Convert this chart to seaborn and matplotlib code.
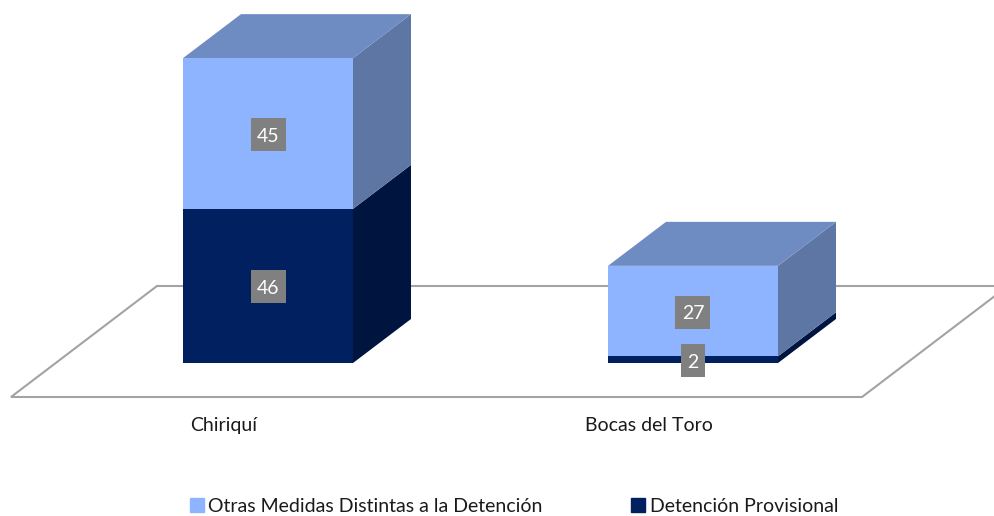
import matplotlib
matplotlib.use("Agg")
import matplotlib.pyplot as plt
from matplotlib.patches import Polygon, Rectangle
from matplotlib.lines import Line2D
import seaborn as sns
import pandas as pd

categories = ["Chiriquí", "Bocas del Toro"]
detencion = [46, 2]
otras = [45, 27]
series_names = ["Otras Medidas Distintas a la Detención", "Detención Provisional"]

LIGHT, LIGHT_TOP, LIGHT_SIDE = "#8FB4FF", "#6E8BC2", "#5E76A4"
DARK, DARK_SIDE = "#00205F", "#001440"
GRID = "#A3A3A3"
TEXT = "#1A1A1A"

sns.set_theme(style="white")
plt.rcParams["font.family"] = ["Lato", "DejaVu Sans"]

W, H = 995, 516
PX_X = 425.0          # pixels per category step
PX_Y = 3.35           # pixels per value unit
X0_PX, Y0_PX = 268.0, 363.0
BAR_W = 170 / PX_X
DX, DY = 58 / PX_X, 44 / PX_Y   # depth of the 3D projection
FS = 14
LABEL_DROP = 1 / PX_Y           # value labels sit one pixel under the segment centre

fig = plt.figure(figsize=(W / 100, H / 100), dpi=100)
ax = fig.add_axes([0, 0, 1, 1])

def fx(p):
    return (p - X0_PX) / PX_X

def fy(p):
    return (Y0_PX - p) / PX_Y

# floor of the 3D plot
ax.add_patch(Polygon(
    [(fx(11), fy(397)), (fx(157), fy(286)), (fx(1008), fy(286)), (fx(862), fy(397))],
    closed=True, facecolor="white", edgecolor=GRID, linewidth=1.5, zorder=1,
))

df = pd.DataFrame({"cat": categories, "det": detencion, "otr": otras})

# side and top faces
for i, (d, o) in enumerate(zip(detencion, otras)):
    r = i + BAR_W / 2
    l = i - BAR_W / 2
    t = d + o
    ax.add_patch(Polygon([(r, 0), (r + DX, DY), (r + DX, d + DY), (r, d)],
                         facecolor=DARK_SIDE, edgecolor="none", zorder=2))
    ax.add_patch(Polygon([(r, d), (r + DX, d + DY), (r + DX, t + DY), (r, t)],
                         facecolor=LIGHT_SIDE, edgecolor="none", zorder=2))
    ax.add_patch(Polygon([(l, t), (l + DX, t + DY), (r + DX, t + DY), (r, t)],
                         facecolor=LIGHT_TOP, edgecolor="none", zorder=2))

# front faces
sns.barplot(data=df, x="cat", y="det", color=DARK, saturation=1, width=BAR_W,
            ax=ax, zorder=3, linewidth=0)
sns.barplot(data=df, x="cat", y="otr", bottom=df["det"], color=LIGHT, saturation=1,
            width=BAR_W, ax=ax, zorder=3, linewidth=0)
ax.set_xlim(-X0_PX / PX_X, (W - X0_PX) / PX_X)
ax.set_ylim(-(H - Y0_PX) / PX_Y, Y0_PX / PX_Y)
ax.axis("off")

# value labels on grey boxes
for i, (d, o) in enumerate(zip(detencion, otras)):
    for val, mid in ((d, d / 2 - LABEL_DROP), (o, d + o / 2 - LABEL_DROP)):
        s = str(val)
        bw = (11 * len(s) + 13) / PX_X
        bh = 33 / PX_Y
        ax.add_patch(Rectangle((i - bw / 2, mid - bh / 2), bw, bh, facecolor="#808080",
                               edgecolor="none", zorder=4))
        ax.text(i, mid, s, ha="center", va="center_baseline", color="white", fontsize=FS, zorder=5)

# category labels sit left of the bars
for i, c in enumerate(categories):
    ax.text(i - 44 / PX_X, fy(425.5), c, ha="center", va="center", color=TEXT, fontsize=FS)

handles = [
    Line2D([], [], marker="s", ls="none", color=LIGHT, markersize=9.4),
    Line2D([], [], marker="s", ls="none", color=DARK, markersize=9.4),
]
ax.legend(handles, series_names, loc="center", bbox_to_anchor=(513.5 / W, 1 - 506 / H),
          ncol=2, frameon=False, fontsize=FS, columnspacing=4.5, handlelength=0.8,
          handletextpad=0.2, borderpad=0, labelcolor=TEXT)

fig.savefig("out.png", dpi=100)
